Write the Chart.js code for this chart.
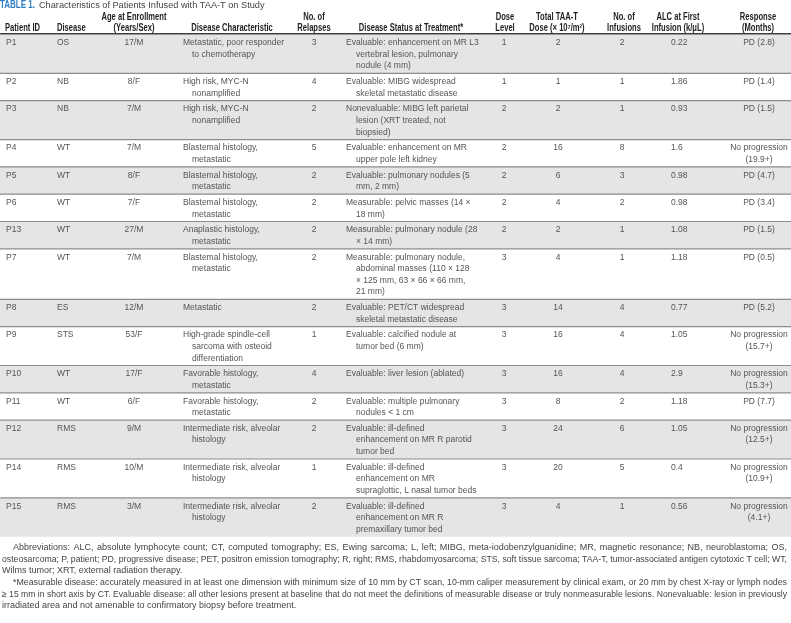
<!DOCTYPE html>
<html><head><meta charset="utf-8">
<script src="https://cdn.jsdelivr.net/npm/chart.js@4.4.1/dist/chart.umd.min.js"></script>
<style>html,body{margin:0;padding:0;background:#fff;}canvas{display:block;}</style>
</head><body>
<canvas id="c" width="791" height="623"></canvas>
<script>
// ---------------- DATA ----------------
const patientIds = ["P1","P2","P3","P4","P5","P6","P13","P7","P8","P9","P10","P11","P12","P14","P15"];
const diseases = ["OS","NB","NB","WT","WT","WT","WT","WT","ES","STS","WT","WT","RMS","RMS","RMS"];
const ages = ["17/M","8/F","7/M","7/M","8/F","7/F","27/M","7/M","12/M","53/F","17/F","6/F","9/M","10/M","3/M"];
const characteristics = [
  "Metastatic, poor responder\nto chemotherapy",
  "High risk, MYC-N\nnonamplified",
  "High risk, MYC-N\nnonamplified",
  "Blastemal histology,\nmetastatic",
  "Blastemal histology,\nmetastatic",
  "Blastemal histology,\nmetastatic",
  "Anaplastic histology,\nmetastatic",
  "Blastemal histology,\nmetastatic",
  "Metastatic",
  "High-grade spindle-cell\nsarcoma with osteoid\ndifferentiation",
  "Favorable histology,\nmetastatic",
  "Favorable histology,\nmetastatic",
  "Intermediate risk, alveolar\nhistology",
  "Intermediate risk, alveolar\nhistology",
  "Intermediate risk, alveolar\nhistology"
];
const relapses = [3,4,2,5,2,2,2,2,2,1,4,2,2,1,2];
const statuses = [
  "Evaluable: enhancement on MR L3\nvertebral lesion, pulmonary\nnodule (4 mm)",
  "Evaluable: MIBG widespread\nskeletal metastatic disease",
  "Nonevaluable: MIBG left parietal\nlesion (XRT treated, not\nbiopsied)",
  "Evaluable: enhancement on MR\nupper pole left kidney",
  "Evaluable: pulmonary nodules (5\nmm, 2 mm)",
  "Measurable: pelvic masses (14 \u00d7\n18 mm)",
  "Measurable: pulmonary nodule (28\n\u00d7 14 mm)",
  "Measurable: pulmonary nodule,\nabdominal masses (110 \u00d7 128\n\u00d7 125 mm, 63 \u00d7 66 \u00d7 66 mm,\n21 mm)",
  "Evaluable: PET/CT widespread\nskeletal metastatic disease",
  "Evaluable: calcified nodule at\ntumor bed (6 mm)",
  "Evaluable: liver lesion (ablated)",
  "Evaluable: multiple pulmonary\nnodules < 1 cm",
  "Evaluable: ill-defined\nenhancement on MR R parotid\ntumor bed",
  "Evaluable: ill-defined\nenhancement on MR\nsupraglottic, L nasal tumor beds",
  "Evaluable: ill-defined\nenhancement on MR R\npremaxillary tumor bed"
];
const doseLevels = [1,1,2,2,2,2,2,3,3,3,3,3,3,3,3];
const totalDoses = [2,1,2,16,6,4,2,4,14,16,16,8,24,20,4];
const infusionCounts = [2,1,1,8,3,2,1,1,4,4,4,2,6,5,1];
const alcValues = [0.22,1.86,0.93,1.6,0.98,0.98,1.08,1.18,0.77,1.05,2.9,1.18,1.05,0.4,0.56];
const responses = [
  "PD (2.8)","PD (1.4)","PD (1.5)","No progression\n(19.9+)","PD (4.7)","PD (3.4)","PD (1.5)",
  "PD (0.5)","PD (5.2)","No progression\n(15.7+)","No progression\n(15.3+)","PD (7.7)",
  "No progression\n(12.5+)","No progression\n(10.9+)","No progression\n(4.1+)"
];
const headerLabels = [
  "Patient ID","Disease","Age at Enrollment\n(Years/Sex)","Disease Characteristic","No. of\nRelapses",
  "Disease Status at Treatment*","Dose\nLevel","Total TAA-T\nDose (\u00d7 10\u2077/m\u00b2)","No. of\nInfusions",
  "ALC at First\nInfusion (k/\u03bcL)","Response\n(Months)"
];
const titleLabel = "TABLE 1.";
const titleText = "Characteristics of Patients Infused with TAA-T on Study";
const footnoteLines = [
  "Abbreviations: ALC, absolute lymphocyte count; CT, computed tomography; ES, Ewing sarcoma; L, left; MIBG, meta-iodobenzylguanidine; MR, magnetic resonance; NB, neuroblastoma; OS,",
  "osteosarcoma; P, patient; PD, progressive disease; PET, positron emission tomography; R, right; RMS, rhabdomyosarcoma; STS, soft tissue sarcoma; TAA-T, tumor-associated antigen cytotoxic T cell; WT,",
  "Wilms tumor; XRT, external radiation therapy.",
  "*Measurable disease: accurately measured in at least one dimension with minimum size of 10 mm by CT scan, 10-mm caliper measurement by clinical exam, or 20 mm by chest X-ray or lymph nodes",
  "\u2265 15 mm in short axis by CT. Evaluable disease: all other lesions present at baseline that do not meet the definitions of measurable disease or truly nonmeasurable lesions. Nonevaluable: lesion in previously",
  "irradiated area and not amenable to confirmatory biopsy before treatment."
];

// ---------------- LAYOUT ----------------
const W = 791, H = 623;
const LINE = 11.6, PAD_T = 2.6, PAD_B = 1.5, TABLE_TOP = 34.5;
const FAM = '"Liberation Sans", Arial, Helvetica, sans-serif';
const colLayout = [
  {x:6, align:'left', hx:5, halign:'left'},
  {x:57, align:'left', hx:57, halign:'left'},
  {x:134, align:'center', hx:134, halign:'center'},
  {x:183, align:'left', indent:9, hx:232, halign:'center'},
  {x:314, align:'center', hx:314, halign:'center'},
  {x:346, align:'left', indent:10, hx:411, halign:'center'},
  {x:504, align:'center', hx:505, halign:'center'},
  {x:558, align:'center', hx:557, halign:'center'},
  {x:622, align:'center', hx:624, halign:'center'},
  {x:671, align:'left', hx:678, halign:'center'},
  {x:759, align:'center', hx:758, halign:'center'}
];
const split = v => String(v).split('\n');
const rows = patientIds.map((id, i) => {
  const cells = [id, diseases[i], ages[i], characteristics[i], relapses[i], statuses[i],
    doseLevels[i], totalDoses[i], infusionCounts[i], alcValues[i], responses[i]].map(split);
  return {cells, n: Math.max(...cells.map(c => c.length))};
});
let yCur = TABLE_TOP;
rows.forEach(r => { r.top = yCur; r.bottom = yCur + r.n * LINE + PAD_T + PAD_B; yCur = r.bottom; });

// ---------------- DATASETS (bands + rules) ----------------
const datasets = [];
rows.forEach((r, i) => {
  if (i % 2 === 0) datasets.push({
    data: [{x:0, y:r.top}, {x:W, y:r.top}], fill: {value: r.bottom},
    backgroundColor: '#e5e5e5', borderColor: 'rgba(0,0,0,0)', borderWidth: 0, pointRadius: 0, order: 3
  });
});
rows.forEach((r, i) => {
  if (i < rows.length - 1) datasets.push({
    data: [{x:0, y:r.bottom}, {x:W, y:r.bottom}], fill: false,
    borderColor: '#8c8c8c', borderWidth: 1.2, pointRadius: 0, order: 1
  });
});
datasets.push({
  data: [{x:0, y:TABLE_TOP - 0.8}, {x:W, y:TABLE_TOP - 0.8}], fill: false,
  borderColor: '#3c3c3c', borderWidth: 1.6, pointRadius: 0, order: 0
});

function drawScaled(ctx, text, x, y, font, color, sx, align) {
  ctx.save();
  ctx.font = font; ctx.fillStyle = color; ctx.textAlign = align || 'left';
  ctx.translate(x, y); ctx.scale(sx, 1); ctx.fillText(text, 0, 0);
  ctx.restore();
}
function drawJustified(ctx, text, x0, x1, y, justify) {
  const natural = ctx.measureText(text).width;
  const avail = x1 - x0;
  if (!justify && natural <= avail) { ctx.fillText(text, x0, y); return; }
  if (natural > avail) {
    ctx.save(); ctx.translate(x0, y); ctx.scale(avail / natural, 1); ctx.fillText(text, 0, 0); ctx.restore(); return;
  }
  const words = text.split(' ');
  const wsum = words.reduce((s, w) => s + ctx.measureText(w).width, 0);
  const gap = (avail - wsum) / (words.length - 1);
  let x = x0;
  words.forEach(w => { ctx.fillText(w, x, y); x += ctx.measureText(w).width + gap; });
}

const tablePlugin = {
  id: 'tableText',
  afterDatasetsDraw(chart) {
    const ctx = chart.ctx, sx = chart.scales.x, sy = chart.scales.y;
    const px = v => sx.getPixelForValue(v), py = v => sy.getPixelForValue(v);
    ctx.save();
    ctx.textBaseline = 'middle';
    // title
    const tFont = 'bold 10px ' + FAM;
    ctx.font = tFont;
    const tw = ctx.measureText(titleLabel).width * 0.8;
    drawScaled(ctx, titleLabel, px(0), py(5.5), tFont, '#2f7cc4', 0.8, 'left');
    ctx.font = '9.2px ' + FAM; ctx.fillStyle = '#444'; ctx.textAlign = 'left';
    ctx.fillText(titleText, px(0) + tw + 4, py(5.5));
    // header
    headerLabels.forEach((h, c) => {
      const L = split(h), cl = colLayout[c];
      L.forEach((t, k) => {
        const y = L.length === 2 ? (k === 0 ? 17 : 28) : 28;
        drawScaled(ctx, t, px(cl.hx), py(y), 'bold 10px ' + FAM, '#1e1e1e', 0.76, cl.halign);
      });
    });
    // body
    ctx.font = '8.5px ' + FAM; ctx.fillStyle = '#555';
    rows.forEach(r => {
      r.cells.forEach((L, c) => {
        const cl = colLayout[c];
        ctx.textAlign = cl.align;
        L.forEach((t, k) => {
          const x = cl.x + (k > 0 && cl.indent ? cl.indent : 0);
          ctx.fillText(t, px(x), py(r.top + PAD_T + LINE * (k + 0.5)));
        });
      });
    });
    // footnotes
    ctx.font = '9px ' + FAM; ctx.fillStyle = '#444'; ctx.textAlign = 'left';
    const fy = [548, 559.5, 571, 583, 594.5, 606];
    const indentLine = [true, false, false, true, false, false];
    const justLine = [true, true, false, true, true, false];
    footnoteLines.forEach((t, i) => {
      drawJustified(ctx, t, px(indentLine[i] ? 13 : 2), px(787), py(fy[i]), justLine[i]);
    });
    ctx.restore();
  }
};

new Chart(document.getElementById('c'), {
  type: 'line',
  data: {datasets},
  options: {
    responsive: false, animation: false, events: [],
    layout: {padding: 0},
    plugins: {legend: {display: false}, tooltip: {enabled: false}, title: {display: false}},
    scales: {
      x: {type: 'linear', min: 0, max: W, display: false},
      y: {type: 'linear', min: 0, max: H, reverse: true, display: false}
    }
  },
  plugins: [tablePlugin]
});
</script>
</body></html>
